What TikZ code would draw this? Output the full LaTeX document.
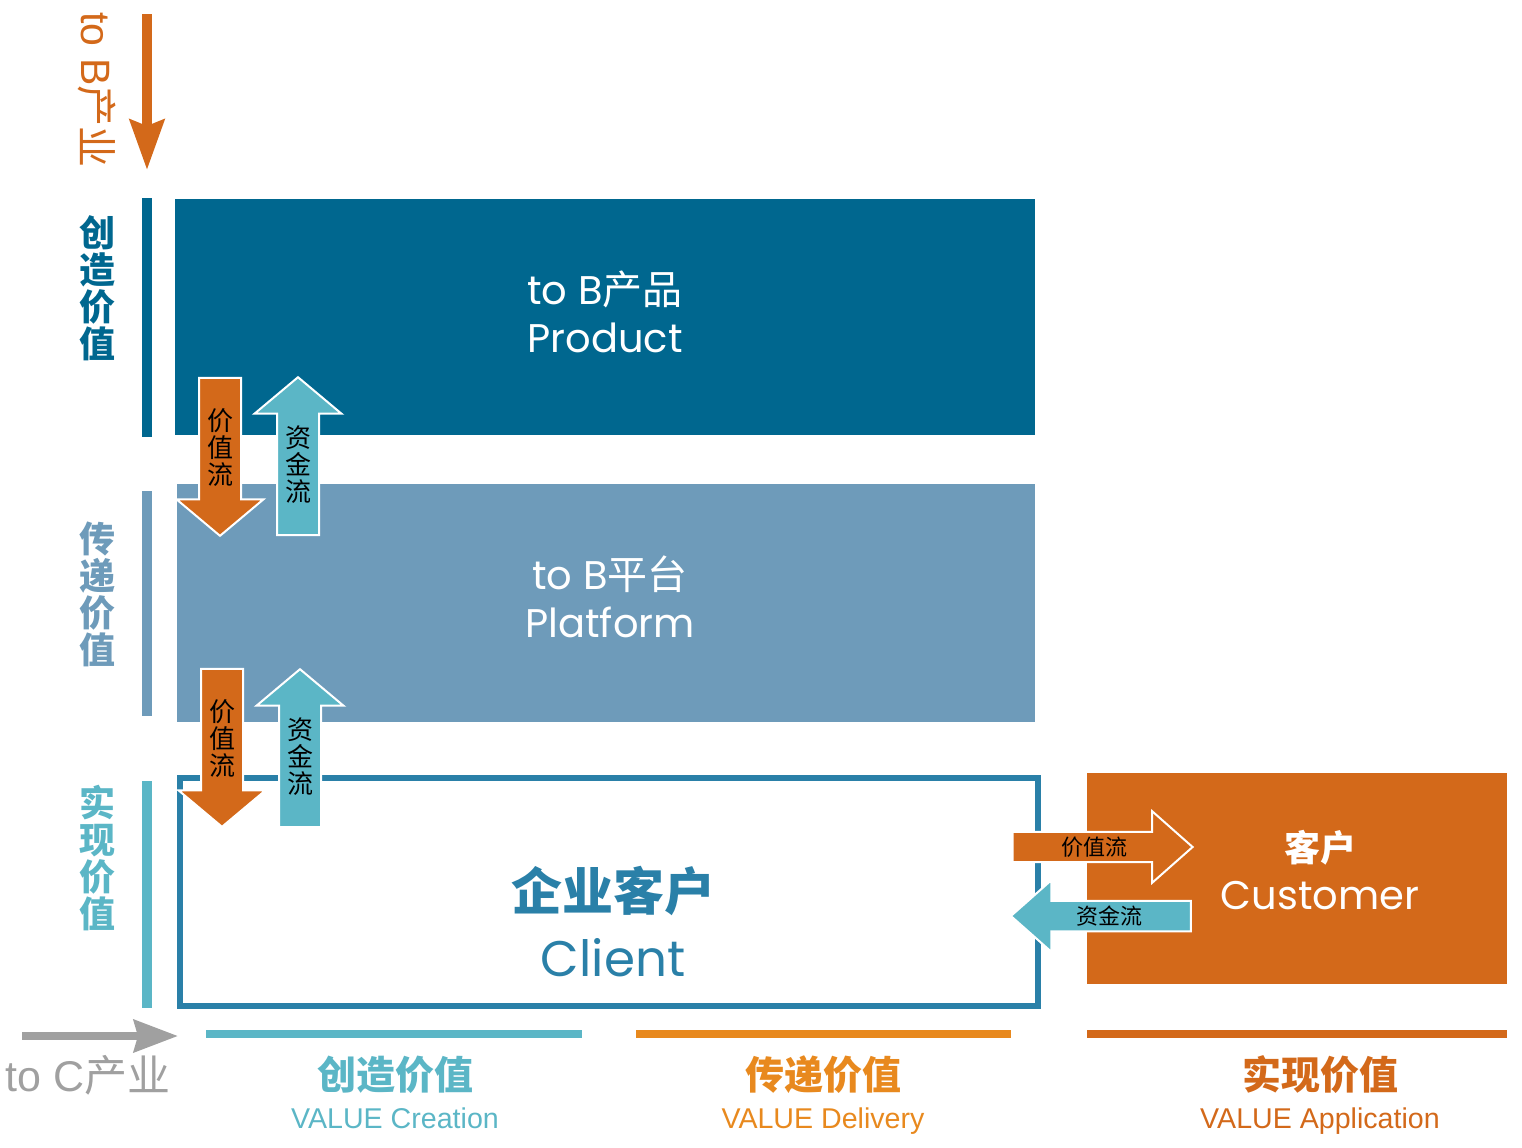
\documentclass[tikz,border=0pt]{standalone}
\usepackage{fontspec}
\setmainfont{Noto Sans CJK SC}
\newfontfamily\geo{Poppins}
\newfontfamily\ari{Liberation Sans}
\usetikzlibrary{arrows.meta,shapes.arrows}
\definecolor{vdark}{HTML}{00678F}
\definecolor{vsteel}{HTML}{6E9BBA}
\definecolor{vteal}{HTML}{5BB6C6}
\definecolor{vorange}{HTML}{D3691A}
\definecolor{vamber}{HTML}{E8891E}
\definecolor{vclient}{HTML}{2A80A8}
\definecolor{vgray}{HTML}{A0A0A0}
\tikzset{
  panel/.style={anchor=north west,inner sep=0pt,outer sep=0pt},
  bigtxt/.style={text=white,align=center,font=\fontsize{20}{24}\selectfont},
  sidelbl/.style={align=center,font=\bfseries\fontsize{18}{18.5}\selectfont},
  footcn/.style={font=\bfseries\fontsize{19.5}{20}\selectfont},
  footen/.style={anchor=base,font=\ari\fontsize{14.3}{15}\selectfont},
  vflow/.style={single arrow,draw=white,line width=1pt,align=center,
    shape border rotate=#1,single arrow tip angle=100,single arrow head extend=11.25pt,
    minimum height=79pt,inner xsep=3.5pt,inner ysep=2pt,font=\fontsize{13}{13.5}\selectfont},
  hflow/.style={single arrow,draw=white,line width=1pt,
    shape border rotate=#1,single arrow tip angle=83,single arrow head extend=10.25pt,
    minimum height=90pt,inner sep=2pt,font=\fontsize{11}{11}\selectfont},
}
\begin{document}
\begin{tikzpicture}[x=0.5pt,y=-0.5pt]
  \useasboundingbox (0,0) rectangle (1522,1147);
  % industry axis
  \coordinate (btop) at (147,14);
  \coordinate (bbot) at (147,170);
  \draw[vorange,line width=5pt,-{Stealth[width=17pt,length=25pt,inset=3pt]}] (btop) -- (bbot);
  \node[rotate=-90,text=vorange,font=\ari\fontsize{20.5}{20}\selectfont] (tob) at (97,90) {to B{\rmfamily 产业}};
  \coordinate (cl) at (22,1036);
  \coordinate (cr) at (178,1036);
  \draw[vgray,line width=4pt,-{Stealth[width=16pt,length=22pt,inset=2pt]}] (cl) -- (cr);
  \node[text=vgray,font=\ari\fontsize{21.5}{20}\selectfont] (toc) at (88,1075) {to C{\rmfamily 产业}};
  % side bars and labels
  \fill[vdark] (142,198) rectangle (152,437);
  \fill[vsteel] (142,491) rectangle (152,716);
  \fill[vteal] (142,781) rectangle (152,1008);
  \node[sidelbl,text=vdark] (s1) at (97,288) {创\\造\\价\\值};
  \node[sidelbl,text=vsteel] (s2) at (97,594) {传\\递\\价\\值};
  \node[sidelbl,text=vteal] (s3) at (97,858) {实\\现\\价\\值};
  % layers
  \node[panel,fill=vdark,minimum width=430pt,minimum height=118pt] (prod) at (175,199) {};
  \node[bigtxt] (prodt) at (605,312) {{\geo to B}产品\\{\geo Product}};
  \node[panel,fill=vsteel,minimum width=429pt,minimum height=119pt] (plat) at (177,484) {};
  \node[bigtxt] (platt) at (610,597) {{\geo to B}平台\\{\geo Platform}};
  \node[draw=vclient,line width=3pt,fill=white,minimum width=429pt,minimum height=114pt,inner sep=0pt] (client) at (608.5,891.5) {};
  \node[text=vclient,align=center,font=\fontsize{25}{33}\selectfont] (clientt) at (613,922) {{\bfseries\fontsize{25.5}{33}\selectfont 企业客户}\\{\geo Client}};
  \node[panel,fill=vorange,minimum width=210pt,minimum height=105.5pt] (cust) at (1087,773) {};
  \node[bigtxt] (custt) at (1320,870) {{\bfseries\fontsize{18}{24}\selectfont 客户}\\{\geo Customer}};
  % flows between layers
  \node[vflow=270,fill=vorange] (v1) at (220,448) {价\\值\\流};
  \node[vflow=90,fill=vteal] (m1) at (298,465) {资\\金\\流};
  \node[vflow=270,fill=vorange] (v2) at (222,739) {价\\值\\流};
  \node[vflow=90,fill=vteal] (m2) at (300,757) {资\\金\\流};
  \node[hflow=0,fill=vorange] (v3) at (1094,847) {价值流};
  \node[hflow=180,fill=vteal] (m3) at (1109.5,916) {资金流};
  % value stages
  \fill[vteal] (206,1030) rectangle (582,1038);
  \fill[vamber] (636,1030) rectangle (1011,1038);
  \fill[vorange] (1087,1030) rectangle (1507,1038);
  \node[footcn,text=vteal] (f1) at (395,1075) {创造价值};
  \node[footen,text=vteal] (e1) at (395,1128) {VALUE Creation};
  \node[footcn,text=vamber] (f2) at (823,1075) {传递价值};
  \node[footen,text=vamber] (e2) at (823,1128) {VALUE Delivery};
  \node[footcn,text=vorange] (f3) at (1320,1075) {实现价值};
  \node[footen,text=vorange] (e3) at (1320,1128) {VALUE Application};
\end{tikzpicture}
\end{document}
